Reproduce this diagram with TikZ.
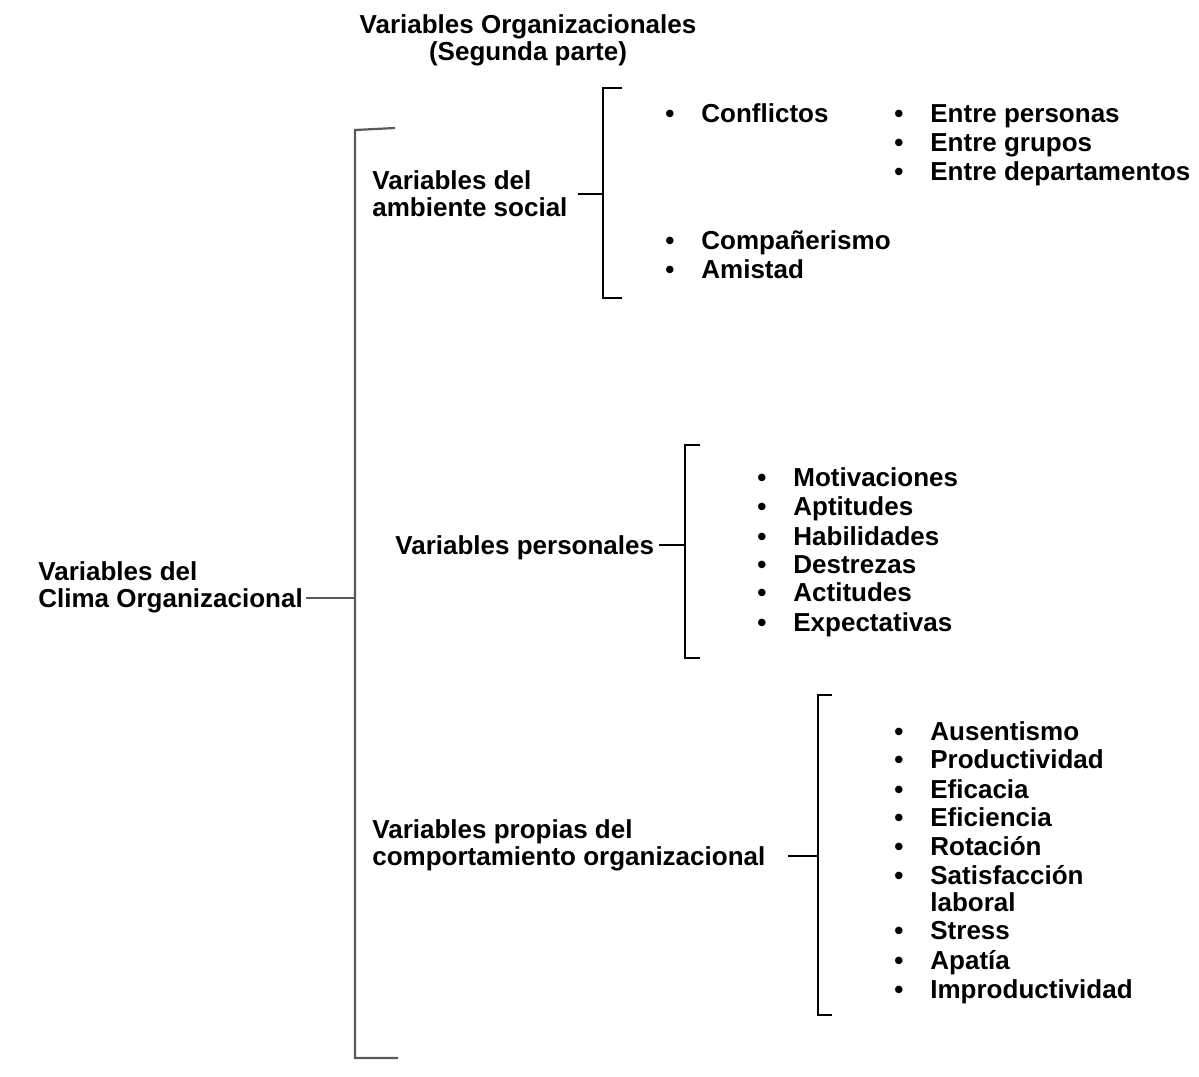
\documentclass[tikz,border=0pt]{standalone}
\usepackage{fontspec}
\setmainfont{Liberation Sans}
\newcommand{\bul}{\llap{\textbullet\hspace{13.5pt}}}
\begin{document}
\begin{tikzpicture}[x=0.5pt, y=-0.5pt,
    every node/.style={font=\fontsize{13}{13.5}\selectfont\bfseries, inner sep=0pt},
    t/.style={anchor=base west, align=left},
    br/.style={draw=black, line width=0.9pt},
    bigbr/.style={draw=black!65, line width=1.1pt}]
    \useasboundingbox (0,0) rectangle (1199,1076);

    \node[anchor=base, align=center] (title) at (528,61) {Variables Organizacionales\\(Segunda parte)};

    \node[t] (root) at (38,607) {Variables del\\Clima Organizacional};

    \node[t] (soc) at (372,216) {Variables del\\ambiente social};
    \node[t] (per) at (395,554) {Variables personales};
    \node[t] (com) at (372,865) {Variables propias del\\comportamiento organizacional};

    % big bracket
    \coordinate (b0t) at (355,130);
    \coordinate (b0m) at (355,598);
    \coordinate (b0b) at (355,1058);
    \draw[bigbr] (395,128) -- (b0t) -- (b0b) -- (398,1058);
    \draw[bigbr] (root.east |- b0m) ++(3,0) -- (b0m);

    % ambiente social
    \coordinate (b1m) at (603,194);
    \draw[br] (622,88) -- (603,88) -- (603,298) -- (622,298);
    \draw[br] (soc.east |- b1m) ++(10,0) -- (b1m);
    \node[t] (conf) at (701,122) {\bul Conflictos};
    \node[t] (comp) at (701,249) {\bul Compañerismo};
    \node[t] (amis) at (701,278) {\bul Amistad};
    \node[t] (ep) at (930,122) {\bul Entre personas};
    \node[t] (eg) at (930,151) {\bul Entre grupos};
    \node[t] (ed) at (930,180) {\bul Entre departamentos};

    % personales
    \coordinate (b2m) at (685,545);
    \draw[br] (700,445) -- (685,445) -- (685,658) -- (700,658);
    \draw[br] (per.east |- b2m) ++(4,0) -- (b2m);
    \node[t] (mot) at (793,486) {\bul Motivaciones};
    \node[t] (apt) at (793,515) {\bul Aptitudes};
    \node[t] (hab) at (793,545) {\bul Habilidades};
    \node[t] (des) at (793,573) {\bul Destrezas};
    \node[t] (act) at (793,601) {\bul Actitudes};
    \node[t] (exp) at (793,631) {\bul Expectativas};

    % comportamiento organizacional
    \coordinate (b3m) at (818,856);
    \draw[br] (832,695) -- (818,695) -- (818,1015) -- (832,1015);
    \draw[br] (com.east |- b3m) ++(22,0) -- (b3m);
    \node[t] (aus) at (930,740) {\bul Ausentismo};
    \node[t] (pro) at (930,768) {\bul Productividad};
    \node[t] (efa) at (930,798) {\bul Eficacia};
    \node[t] (efi) at (930,826) {\bul Eficiencia};
    \node[t] (rot) at (930,855) {\bul Rotación};
    \node[t] (sat) at (930,911) {\bul Satisfacción\\laboral};
    \node[t] (str) at (930,939) {\bul Stress};
    \node[t] (apa) at (930,969) {\bul Apatía};
    \node[t] (imp) at (930,998) {\bul Improductividad};
\end{tikzpicture}
\end{document}
